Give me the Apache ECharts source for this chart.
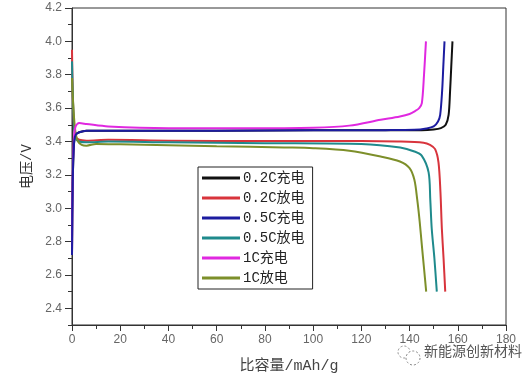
<!DOCTYPE html>
<html>
<head>
<meta charset="utf-8">
<script src="https://cdn.jsdelivr.net/npm/echarts@6/dist/echarts.min.js"></script>
<style>html,body{margin:0;padding:0;background:#fff;}#c{width:532px;height:379px;}</style>
</head>
<body>
<div id="c"></div>
<script>
var seriesNames = ['0.2C充电', '0.2C放电', '0.5C充电', '0.5C放电', '1C充电', '1C放电'];
var yTickLabels = ['2.4', '2.6', '2.8', '3.0', '3.2', '3.4', '3.6', '3.8', '4.0', '4.2'];

var charge02X = [0, 0.3, 0.8, 1.5, 3, 6, 20, 60, 100, 130, 145, 150, 153, 155, 156.2, 156.8, 157.3, 157.8];
var charge02Y = [2.72, 3.15, 3.38, 3.44, 3.455, 3.465, 3.465, 3.465, 3.467, 3.468, 3.468, 3.472, 3.48, 3.5, 3.56, 3.7, 3.85, 4.0];

var discharge02X = [0, 0.3, 0.8, 1.5, 3, 6, 15, 40, 80, 120, 135, 145.8, 148.5, 150.6, 152, 152.8, 153.4, 154.1, 154.8];
var discharge02Y = [3.95, 3.7, 3.5, 3.43, 3.41, 3.405, 3.41, 3.405, 3.403, 3.403, 3.4, 3.393, 3.38, 3.354, 3.275, 3.1, 2.877, 2.7, 2.5];

var charge05X = [0, 0.3, 0.8, 1.5, 3, 6, 20, 60, 100, 130, 142, 147, 150, 151.8, 152.7, 153.5, 154, 154.5];
var charge05Y = [2.72, 3.15, 3.38, 3.44, 3.455, 3.465, 3.465, 3.465, 3.467, 3.468, 3.47, 3.478, 3.49, 3.52, 3.56, 3.7, 3.85, 4.0];

var discharge05X = [0, 0.3, 0.8, 1.5, 3, 6, 15, 40, 80, 120, 136.1, 142, 145.1, 147.9, 148.6, 149.2, 150.3, 151.3];
var discharge05Y = [3.88, 3.7, 3.5, 3.42, 3.4, 3.395, 3.4, 3.395, 3.39, 3.385, 3.364, 3.34, 3.314, 3.215, 3.05, 2.877, 2.7, 2.5];

var charge1X = [0, 0.3, 0.8, 1.5, 3, 6, 15, 40, 70, 100, 115, 128, 136, 140, 142.3, 144, 145.1, 146, 146.8];
var charge1Y = [2.72, 3.2, 3.42, 3.49, 3.51, 3.505, 3.49, 3.48, 3.48, 3.483, 3.495, 3.53, 3.55, 3.565, 3.582, 3.6, 3.63, 3.8, 4.0];

var discharge1X = [0, 0.3, 0.8, 1.5, 2.5, 4, 6, 10, 20, 40, 60, 88, 100, 115, 128, 136, 140, 142, 143.2, 144.2, 145.1, 146, 146.9];
var discharge1Y = [3.78, 3.68, 3.55, 3.45, 3.4, 3.38, 3.375, 3.385, 3.383, 3.378, 3.372, 3.364, 3.36, 3.345, 3.31, 3.28, 3.24, 3.17, 3.05, 2.92, 2.777, 2.64, 2.5];

var colors = ['#111111', '#d8343c', '#1c1ca0', '#1f8a8c', '#e028e0', '#7d8f2a'];

function zip(xs, ys) { return xs.map(function (x, i) { return [x, ys[i]]; }); }
var allData = [
  zip(charge02X, charge02Y),
  zip(discharge02X, discharge02Y),
  zip(charge05X, charge05Y),
  zip(discharge05X, discharge05Y),
  zip(charge1X, charge1Y),
  zip(discharge1X, discharge1Y)
];
var drawOrder = [0, 1, 3, 5, 4, 2];

var chart = echarts.init(document.getElementById('c'), null, {renderer: 'canvas'});
var series = drawOrder.map(function (k) {
  return {
    name: seriesNames[k],
    type: 'line',
    data: allData[k],
    showSymbol: false,
    smooth: 0.3,
    lineStyle: {color: colors[k], width: 2},
    itemStyle: {color: colors[k]},
    z: 3
  };
});

var majorTicks = yTickLabels.map(Number);

chart.setOption({
  animation: false,
  backgroundColor: '#fff',
  grid: {left: 72, right: 26, top: 8, bottom: 52, show: true, borderColor: '#333', borderWidth: 1, backgroundColor: 'transparent'},
  legend: {
    data: seriesNames.map(function (n, i) { return {name: n, icon: 'rect', itemStyle: {color: colors[i]}}; }),
    orient: 'vertical',
    left: 198,
    top: 167,
    padding: [4, 8, 4, 4],
    itemWidth: 38,
    itemHeight: 3,
    itemGap: 6,
    selectedMode: false,
    borderColor: '#222',
    borderWidth: 1,
    backgroundColor: '#fff',
    textStyle: {fontFamily: "'Liberation Mono','Noto Sans CJK SC'", fontSize: 14, lineHeight: 14, color: '#222', padding: [0, 0, 0, -2]}
  },
  xAxis: {
    type: 'value', min: 0, max: 180, interval: 20,
    name: '比容量/mAh/g', nameLocation: 'middle', nameGap: 34,
    nameTextStyle: {fontFamily: "'Liberation Mono','Noto Sans CJK SC'", fontSize: 15, color: '#444'},
    axisLine: {show: true, lineStyle: {color: '#333', width: 1}},
    axisTick: {show: true, inside: false, length: 6, lineStyle: {color: '#333'}},
    minorTick: {show: true, splitNumber: 2, length: 4, lineStyle: {color: '#333'}},
    axisLabel: {color: '#666', fontSize: 12, fontFamily: 'Liberation Sans', margin: 9},
    splitLine: {show: false}
  },
  yAxis: [{
    type: 'value', min: 2.3, max: 4.2, interval: 0.1,
    name: '电压/V', nameLocation: 'middle', nameGap: 37, nameRotate: 90,
    nameTextStyle: {fontFamily: "'Liberation Mono','Noto Sans CJK SC'", fontSize: 14, color: '#333'},
    axisLine: {show: true, lineStyle: {color: '#333', width: 1}},
    axisTick: {show: true, inside: false, length: 4, lineStyle: {color: '#333'}},
    axisLabel: {
      color: '#666', fontSize: 12, fontFamily: 'Liberation Sans', margin: 10,
      formatter: function (v) {
        var s = v.toFixed(1);
        return yTickLabels.indexOf(s) >= 0 ? s : '';
      }
    },
    splitLine: {show: false}
  }, {
    type: 'value', min: 2.3, max: 4.2, position: 'left', offset: 0,
    axisLine: {show: false},
    axisTick: {show: true, inside: false, length: 7, customValues: majorTicks, lineStyle: {color: '#333'}},
    axisLabel: {show: false},
    splitLine: {show: false}
  }],
  graphic: [
    {type: 'circle', shape: {cx: 404, cy: 352, r: 6}, style: {fill: 'none', stroke: '#888', lineWidth: 1, lineDash: [2, 2]}},
    {type: 'circle', shape: {cx: 413, cy: 358, r: 7}, style: {fill: '#fff', stroke: '#888', lineWidth: 1, lineDash: [2, 2]}},
    {type: 'text', left: 424, top: 344, style: {text: '新能源创新材料', fontSize: 14, fill: '#555', fontFamily: 'Noto Sans CJK SC'}}
  ],
  series: series
});
</script>
</body>
</html>
